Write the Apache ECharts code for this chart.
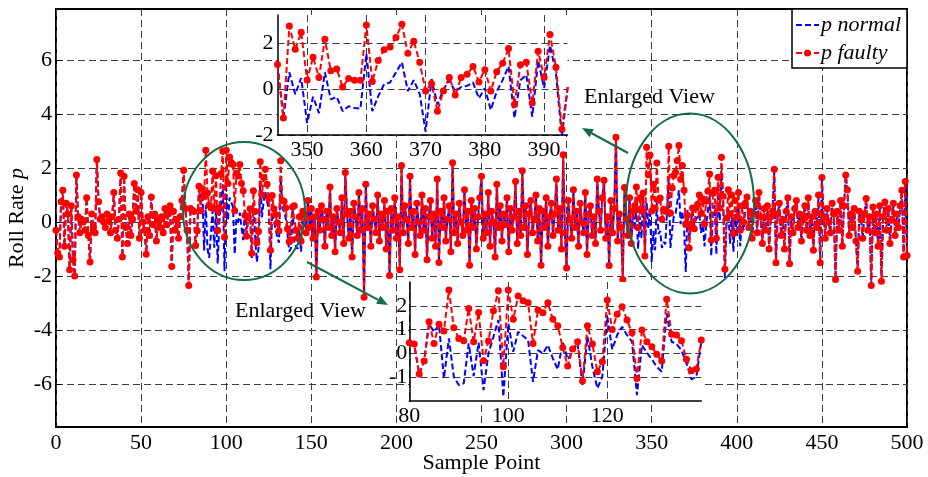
<!DOCTYPE html>
<html>
<head>
<meta charset="utf-8">
<script src="https://cdn.jsdelivr.net/npm/echarts@6/dist/echarts.min.js"></script>
<style>
html, body { margin: 0; padding: 0; background: #fff; }
#chart { width: 928px; height: 477px; }
</style>
</head>
<body>
<div id="chart"></div>
<script>
// Roll rate p, samples 0..500. Outside the two fault windows the normal
// and faulty signals are the same samples.
const headValues = [ // samples 0-79
  -0.3, -1.15, -1.3, 0.75, 1.18, -0.9, 0.7, 0.3, -1.77, 0.6,
  -1.4, -2.0, 1.74, 0.2, -0.4, 0.1, 0.0, -0.3, 0.9, -0.5,
  -1.48, 0.3, -0.2, -0.4, 2.32, 0.75, 0.1, 0.2, 0.0, -0.2,
  0.3, 0.05, -0.4, 0.2, 1.1, -0.3, -0.6, 0.1, 1.82, -1.3,
  1.7, -0.2, -0.8, 0.3, -0.5, 0.1, 1.43, 0.4, 1.2, -0.6,
  1.1, 0.0, -0.3, -1.19, 0.2, -0.5, 0.93, -0.1, 0.3, -0.7,
  0.1, -0.2, 0.2, -0.4, 0.5, -0.1, 0.3, 0.6, -1.65, 0.4,
  -0.3, 0.1, -0.6, 0.2, 0.8, 1.92, 0.5, -0.3, -2.35, 0.5
];
const windowANormal = [ // samples 80-145
  0.45, 0.39, -0.87, -0.32, 1.25, 0.9, 1.2, -1.05, 0.63, -0.98,
  -1.33, -1.26, 0.42, -0.95, 0.45, -1.54, 0.0, 0.7, 1.4, -1.82,
  1.26, 0.07, 0.91, 0.73, 0.56, -1.19, 0.14, 0.0, 0.35, -0.21,
  -0.67, 0.49, -0.25, 0.07, 0.42, -1.33, 0.7, -0.56, -1.47, -0.98,
  1.54, 0.17, 0.77, 1.12, 0.77, 0.49, -1.75, 0.35, 0.03, -0.25,
  -0.56, -0.77, 1.68, 0.49, 0.39, 0.14, -0.42, -1.09, -0.98, 0.49,
  -0.8, -0.9, -1.0, -0.3, -1.1, 0.3
];
const windowAFaulty = [ // samples 80-145
  0.45, 0.39, -0.87, -0.32, 1.33, 0.42, 1.23, 0.94, 2.66, 1.08,
  0.63, 0.53, 1.89, 0.49, 1.72, -0.31, 0.52, 1.79, 2.63, -0.56,
  2.66, 1.43, 2.41, 2.21, 2.13, 0.42, 1.82, 1.71, 2.13, 1.43,
  1.16, 0.25, -0.53, 0.18, 0.49, -1.16, 1.16, 0.39, -0.77, -0.35,
  2.24, 1.0, 1.65, 1.96, 1.4, 0.87, -1.05, 0.98, 0.49, 0.28,
  -0.04, -0.32, 2.27, 0.8, 0.77, 0.53, -0.25, -0.73, -0.66, 0.56,
  0.6, -0.3, -0.6, 0.2, -0.7, 0.4
];
const midValues = [ // samples 146-339
  0.3, -0.4, 0.8, -0.2, 0.5, -0.6, 0.2, -2.04, 0.4, -0.3,
  0.6, 0.1, -0.9, 0.4, -0.2, 1.3, -0.5, 0.2, -1.1, 0.5,
  0.0, -0.4, 0.9, -0.8, 1.84, 0.3, -0.6, 0.4, -1.3, 0.7,
  0.2, -0.5, 1.1, -0.3, 0.5, -2.79, 1.4, -0.2, 0.3, -0.9,
  0.6, 0.1, -0.4, 1.0, -0.7, 0.3, -0.2, 0.8, -1.0, 0.4,
  -1.98, 0.5, -0.3, 0.9, -0.6, 0.2, -1.77, 2.1, -0.4, 0.6,
  0.1, -0.8, 1.7, -0.2, 0.4, -1.2, 0.7, 0.0, -0.5, 1.0,
  -0.3, 0.5, -1.4, 0.2, 0.8, -0.6, 0.3, -0.9, 1.6, -1.5,
  0.4, -0.2, 0.9, -0.7, 0.1, 0.6, -1.1, 2.2, -0.4, 0.3,
  -0.8, 0.7, 0.0, -0.5, 1.2, -0.3, 0.4, -1.6, 0.8, -0.2,
  0.5, -1.0, 0.2, 0.9, 1.7, -0.6, 0.3, -0.4, 1.1, -0.9,
  0.4, 0.0, -1.3, 1.4, -0.2, 0.6, -0.7, 0.3, -0.1, 0.9,
  -1.1, 0.5, -0.3, 0.2, 1.5, -0.8, 0.4, -0.5, 1.9, -0.2,
  0.6, -1.2, 0.3, 0.8, -0.4, 0.1, 1.0, -0.7, 0.5, -1.6,
  0.4, -0.2, 0.9, -0.9, 0.2, 0.7, -0.5, 0.3, 1.6, -0.3,
  0.5, -1.0, 2.5, -0.4, -1.7, 0.8, 0.1, -0.6, 1.2, -0.2,
  0.4, -0.9, 0.7, 0.0, -0.4, 1.1, -1.2, 0.3, 0.6, -0.5,
  0.2, -0.8, 1.6, 0.4, -0.3, 0.9, 1.55, -0.6, 0.2, -1.61,
  0.8, -0.4, 0.5, 3.14, -0.7, 0.3, -0.2, -2.13, 1.28, 0.1,
  -0.5, 0.9, -0.8, 0.4
];
const windowBNormal = [ // samples 340-406
  -0.3, 0.5, -1.0, 0.2, -0.6,
  1.08, -1.26, 0.74, -0.22, 0.49, -1.48, -0.33, -1.04, 0.74, -0.44,
  -0.33, -0.96, -0.74, -0.82, -0.85, 1.56, -0.96, -0.3, 0.22, 0.3,
  0.74, 1.18, -0.08, 0.4, -0.2, -1.85, 0.45, -0.67, 0.0, 0.4,
  -0.1, 0.1, 0.15, 0.3, -0.4, 0.05, -0.9, -0.1, 0.4, 1.0,
  -1.26, 0.4, 0.63, -1.2, 1.26, 0.05, 1.92, 0.7, -2.07, 0.1,
  0.5, -0.8, 0.2, -1.1, 0.3, -0.5, 0.6, -0.9, 0.1, -0.3, 0.5, 0.9
];
const windowBFaulty = [ // samples 340-406
  0.6, 1.3, -0.2, 0.9, 0.4,
  1.08, -1.26, 2.77, 1.75, 2.49, 0.41, 1.4, 0.52, 2.19, 0.81,
  0.89, 0.1, 0.47, 0.4, 0.4, 2.81, 0.34, 1.26, 1.73, 1.85,
  2.27, 2.84, 1.58, 2.1, 1.18, -0.08, 0.25, -0.96, -0.08, 0.52,
  -0.25, 0.52, 0.66, 1.0, 0.32, 0.86, -0.08, 0.77, 1.14, 1.78,
  -0.67, 1.07, 1.18, -0.6, 1.66, 0.52, 2.4, 0.96, -1.75, 0.15,
  1.2, 0.3, 1.0, -0.43, 0.8, 0.2, 1.1, -0.3, 0.6, 0.0, 0.7, 0.93
];
const tailValues = [ // samples 407-500
  -0.2, 0.4, -0.6, 0.3, 0.8, -0.4, 1.1, 0.2, -0.8, 0.5,
  -0.3, 0.6, -1.0, 0.2, 0.4, 1.96, -1.51, 0.3, 0.7, -0.5,
  0.1, -1.0, 0.4, 0.9, -1.55, 0.2, -0.4, 0.5, 0.8, -0.2,
  0.3, -0.7, 0.1, 0.6, -0.3, 0.9, -0.5, 0.2, -1.05, 0.4,
  -0.2, 1.0, -1.51, 1.65, 0.2, -0.6, 0.5, 0.0, -0.4, 0.7,
  0.3, -2.13, 0.4, -0.3, 0.8, -0.9, 0.6, 1.74, 1.2, -0.5,
  0.3, -0.2, 0.5, -0.7, -1.82, 0.4, 0.1, -0.6, 0.3, 0.87,
  -0.3, 0.2, -2.35, 0.56, -0.4, 0.3, -0.9, 0.6, -2.2, 0.2,
  0.74, -0.3, 0.5, -0.8, 0.1, 0.7, -0.5, 0.3, -0.2, 0.6,
  1.18, -1.3, 1.5, -1.24
];

const xTicks = [0, 50, 100, 150, 200, 250, 300, 350, 400, 450, 500];
const yTicks = [-6, -4, -2, 0, 2, 4, 6];
const zoomLeftXTicks = [80, 100, 120];     // lower inset, samples 80-139
const zoomLeftYTicks = [-1, 0, 1, 2];
const zoomRightXTicks = [350, 360, 370, 380, 390]; // upper inset, samples 345-394
const zoomRightYTicks = [-2, 0, 2];

const pNormal = headValues.concat(windowANormal, midValues, windowBNormal, tailValues);
const pFaulty = headValues.concat(windowAFaulty, midValues, windowBFaulty, tailValues);
const toPoints = (arr, from, to) => arr.map((v, i) => [i, v]).filter(p => p[0] >= from && p[0] <= to);

const FONT = 'Liberation Serif';
const GRID_LINE = { show: true, lineStyle: { color: '#3c3c3c', type: [7, 4], width: 1 } };
const BLUE = '#0000ff', RED = '#ff0000', GREEN = '#146c46';

function normalSeries(x, y, data, z) {
  return { type: 'line', xAxisIndex: x, yAxisIndex: y, data, z, showSymbol: false, symbol: 'none',
    clip: true, color: BLUE, lineStyle: { color: BLUE, width: 2, type: [6, 3] }, silent: true };
}
function faultySeries(x, y, data, z) {
  return { type: 'line', xAxisIndex: x, yAxisIndex: y, data, z, symbol: 'circle', symbolSize: 7,
    clip: true, color: RED, itemStyle: { color: RED }, lineStyle: { color: RED, width: 2, type: [6, 3] }, silent: true };
}

function arrow(x1, y1, x2, y2) {
  const dx = x2 - x1, dy = y2 - y1, len = Math.hypot(dx, dy);
  const ux = dx / len, uy = dy / len, hl = 11, hw = 4.5;
  const bx = x2 - ux * hl, by = y2 - uy * hl;
  return [
    { type: 'line', z: 100, shape: { x1, y1, x2: bx, y2: by }, style: { stroke: GREEN, lineWidth: 2 } },
    { type: 'polygon', z: 100, shape: { points: [[x2, y2], [bx - uy * hw, by + ux * hw], [bx + uy * hw, by - ux * hw]] },
      style: { fill: GREEN } }
  ];
}

const labelStyle = { color: '#000', fontFamily: FONT, fontSize: 22 };

const option = {
  animation: false,
  backgroundColor: '#fff',
  grid: [
    { left: 56, top: 9, right: 21, bottom: 50, outerBoundsMode: 'none', show: true,
      borderColor: '#000', borderWidth: 2, backgroundColor: 'transparent' },
    { left: 277.5, top: 15, width: 290, height: 120, outerBoundsMode: 'none', show: true,
      borderWidth: 0, backgroundColor: '#fff', z: 10 },
    { left: 409.3, top: 282, width: 292, height: 119, outerBoundsMode: 'none', show: true,
      borderWidth: 0, backgroundColor: '#fff', z: 10 }
  ],
  xAxis: [
    { gridIndex: 0, type: 'value', min: 0, max: 500,
      name: 'Sample Point', nameLocation: 'middle', nameGap: 25, nameMoveOverlap: false,
      nameTextStyle: { color: '#000', fontFamily: FONT, fontSize: 22 },
      axisLine: { show: false },
      axisTick: { show: true, inside: true, length: 5, lineStyle: { color: '#000' }, customValues: xTicks },
      axisLabel: Object.assign({ margin: 5, customValues: xTicks }, labelStyle),
      splitLine: GRID_LINE },
    { gridIndex: 1, type: 'value', min: 345, max: 393.95, z: 11,
      axisLine: { show: true, onZero: false, lineStyle: { color: '#000', width: 1.5 } },
      axisTick: { show: false, customValues: zoomRightXTicks },
      axisLabel: Object.assign({ margin: 4, customValues: zoomRightXTicks }, labelStyle),
      splitLine: GRID_LINE },
    { gridIndex: 2, type: 'value', min: 80, max: 139, z: 11,
      axisLine: { show: true, onZero: false, lineStyle: { color: '#000', width: 1.5 } },
      axisTick: { show: false, customValues: zoomLeftXTicks },
      axisLabel: Object.assign({ margin: 4, customValues: zoomLeftXTicks }, labelStyle),
      splitLine: GRID_LINE }
  ],
  yAxis: [
    { gridIndex: 0, type: 'value', min: -7.6, max: 7.9,
      name: 'Roll Rate {it|p}', nameLocation: 'middle', nameGap: 28, nameRotate: 90, nameMoveOverlap: false,
      nameTextStyle: { color: '#000', fontFamily: FONT, fontSize: 22,
        rich: { it: { fontFamily: FONT, fontSize: 22, fontStyle: 'italic', color: '#000' } } },
      axisLine: { show: false },
      axisTick: { show: true, inside: true, length: 5, lineStyle: { color: '#000' }, customValues: yTicks },
      axisLabel: Object.assign({ margin: 4, customValues: yTicks }, labelStyle),
      splitLine: GRID_LINE },
    { gridIndex: 1, type: 'value', min: -2, max: 3.25, z: 11,
      axisLine: { show: true, onZero: false, lineStyle: { color: '#000', width: 1.5 } },
      axisTick: { show: false, customValues: zoomRightYTicks },
      axisLabel: Object.assign({ margin: 4, customValues: zoomRightYTicks }, labelStyle),
      splitLine: GRID_LINE },
    { gridIndex: 2, type: 'value', min: -2, max: 3, z: 11,
      axisLine: { show: true, onZero: false, lineStyle: { color: '#000', width: 1.5 } },
      axisTick: { show: false, customValues: zoomLeftYTicks },
      axisLabel: Object.assign({ margin: 2, customValues: zoomLeftYTicks }, labelStyle),
      splitLine: GRID_LINE }
  ],
  series: [
    normalSeries(0, 0, toPoints(pNormal, 0, 500), 2),
    faultySeries(0, 0, toPoints(pFaulty, 0, 500), 3),
    normalSeries(1, 1, toPoints(pNormal, 345, 394), 12),
    faultySeries(1, 1, toPoints(pFaulty, 345, 394), 13),
    normalSeries(2, 2, toPoints(pNormal, 80, 139), 12),
    faultySeries(2, 2, toPoints(pFaulty, 80, 139), 13)
  ],
  graphic: [
    // fault regions
    { type: 'ellipse', z: 100, shape: { cx: 244, cy: 211, rx: 61, ry: 69 }, style: { fill: 'none', stroke: GREEN, lineWidth: 2 } },
    { type: 'ellipse', z: 100, shape: { cx: 690, cy: 203.5, rx: 64, ry: 90 }, style: { fill: 'none', stroke: GREEN, lineWidth: 2 } },
    ...arrow(628, 153, 582, 128),
    ...arrow(307, 262, 388, 305),
    { type: 'text', z: 100, x: 584, y: 97, style: { text: 'Enlarged View', fill: '#000', font: '22px "Liberation Serif"', verticalAlign: 'middle' } },
    { type: 'text', z: 100, x: 235, y: 311, style: { text: 'Enlarged View', fill: '#000', font: '22px "Liberation Serif"', verticalAlign: 'middle' } },
    // legend
    { type: 'rect', z: 100, shape: { x: 792, y: 9, width: 115, height: 59 }, style: { fill: '#fff', stroke: '#000', lineWidth: 1.5 } },
    { type: 'line', z: 101, shape: { x1: 796, y1: 25, x2: 819, y2: 25 }, style: { stroke: BLUE, lineWidth: 2, lineDash: [6, 3] } },
    { type: 'line', z: 101, shape: { x1: 796, y1: 53, x2: 819, y2: 53 }, style: { stroke: RED, lineWidth: 2, lineDash: [6, 3] } },
    { type: 'circle', z: 101, shape: { cx: 807.5, cy: 53, r: 3.5 }, style: { fill: RED } },
    { type: 'text', z: 101, x: 821, y: 25, style: { text: 'p normal', fill: '#000', font: 'italic 22px "Liberation Serif"', verticalAlign: 'middle' } },
    { type: 'text', z: 101, x: 821, y: 53, style: { text: 'p faulty', fill: '#000', font: 'italic 22px "Liberation Serif"', verticalAlign: 'middle' } }
  ]
};

const chart = echarts.init(document.getElementById('chart'), null, { renderer: 'canvas' });
chart.setOption(option);
</script>
</body>
</html>
